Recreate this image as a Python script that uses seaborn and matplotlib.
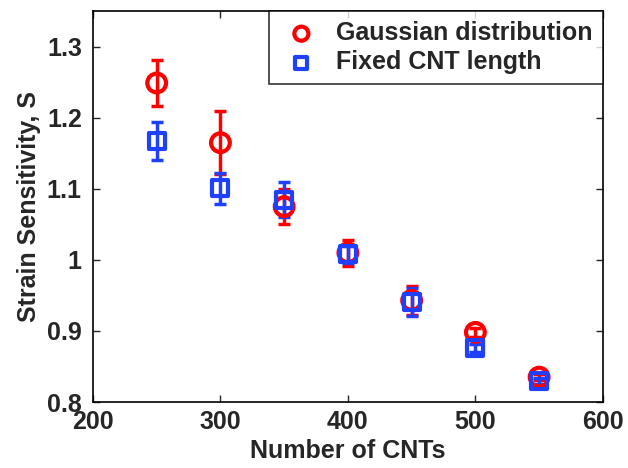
import seaborn as sns
import pandas as pd
import matplotlib.pyplot as plt

n_cnts = [250, 300, 350, 400, 450, 500, 550]

gauss_s = [1.249, 1.165, 1.075, 1.010, 0.943, 0.898, 0.835]
gauss_err = [0.033, 0.044, 0.025, 0.018, 0.020, 0.006, 0.004]

fixed_s = [1.167, 1.101, 1.085, 1.008, 0.941, 0.876, 0.830]
fixed_err = [0.027, 0.022, 0.025, 0.012, 0.020, 0.005, 0.004]

series_names = ["Gaussian distribution", "Fixed CNT length"]
red = "#ff0000"
blue = "#2040ff"

df = pd.concat([
    pd.DataFrame({"n": n_cnts, "S": gauss_s, "err": gauss_err, "model": series_names[0]}),
    pd.DataFrame({"n": n_cnts, "S": fixed_s, "err": fixed_err, "model": series_names[1]}),
])

sns.set_style("white")
plt.rcParams["font.family"] = ["Liberation Sans", "DejaVu Sans"]
plt.rcParams["font.weight"] = "bold"

fig = plt.figure(figsize=(6.28, 4.68), dpi=100)
ax = fig.add_axes([0.148, 0.141, 0.812, 0.835])

styles = {
    series_names[0]: dict(color=red, marker="o", size=13.5),
    series_names[1]: dict(color=blue, marker="s", size=11.5),
}

for name in series_names:
    sub = df[df["model"] == name]
    st = styles[name]
    ax.errorbar(sub["n"], sub["S"], yerr=sub["err"], fmt="none",
                ecolor=st["color"], elinewidth=2.5, capsize=4, capthick=2.5, zorder=2)
    sns.scatterplot(data=sub, x="n", y="S", ax=ax, marker=st["marker"],
                    s=st["size"] ** 2, facecolor="none", edgecolor=st["color"],
                    linewidth=3, label=name, zorder=3)

ax.set_xlim(200, 600)
ax.set_ylim(0.8, 1.35)
ax.set_xticks([200, 300, 400, 500, 600])
ax.set_yticks([0.8, 0.9, 1.0, 1.1, 1.2, 1.3])
ax.set_yticklabels(["0.8", "0.9", "1", "1.1", "1.2", "1.3"])
ax.tick_params(direction="in", length=5, width=1, labelsize=18, top=True, right=True,
               bottom=True, left=True)
ax.tick_params(axis="y", pad=8)
ax.tick_params(axis="x", pad=6)
for lab in ax.get_xticklabels() + ax.get_yticklabels():
    lab.set_fontweight("bold")
for sp in ax.spines.values():
    sp.set_linewidth(1.2)
    sp.set_color("black")

ax.set_xlabel("Number of CNTs", fontsize=18, fontweight="bold", labelpad=3)
ax.set_ylabel("Strain Sensitivity, S", fontsize=18, fontweight="bold", labelpad=4)

leg = ax.legend(loc="upper right", borderaxespad=0, fontsize=18, frameon=True,
                fancybox=False, edgecolor="black", markerscale=0.75,
                handletextpad=0.5, handlelength=1.8, borderpad=0.4, labelspacing=0.2)
leg.get_frame().set_linewidth(1.2)

fig.savefig("out.png", dpi=100)
